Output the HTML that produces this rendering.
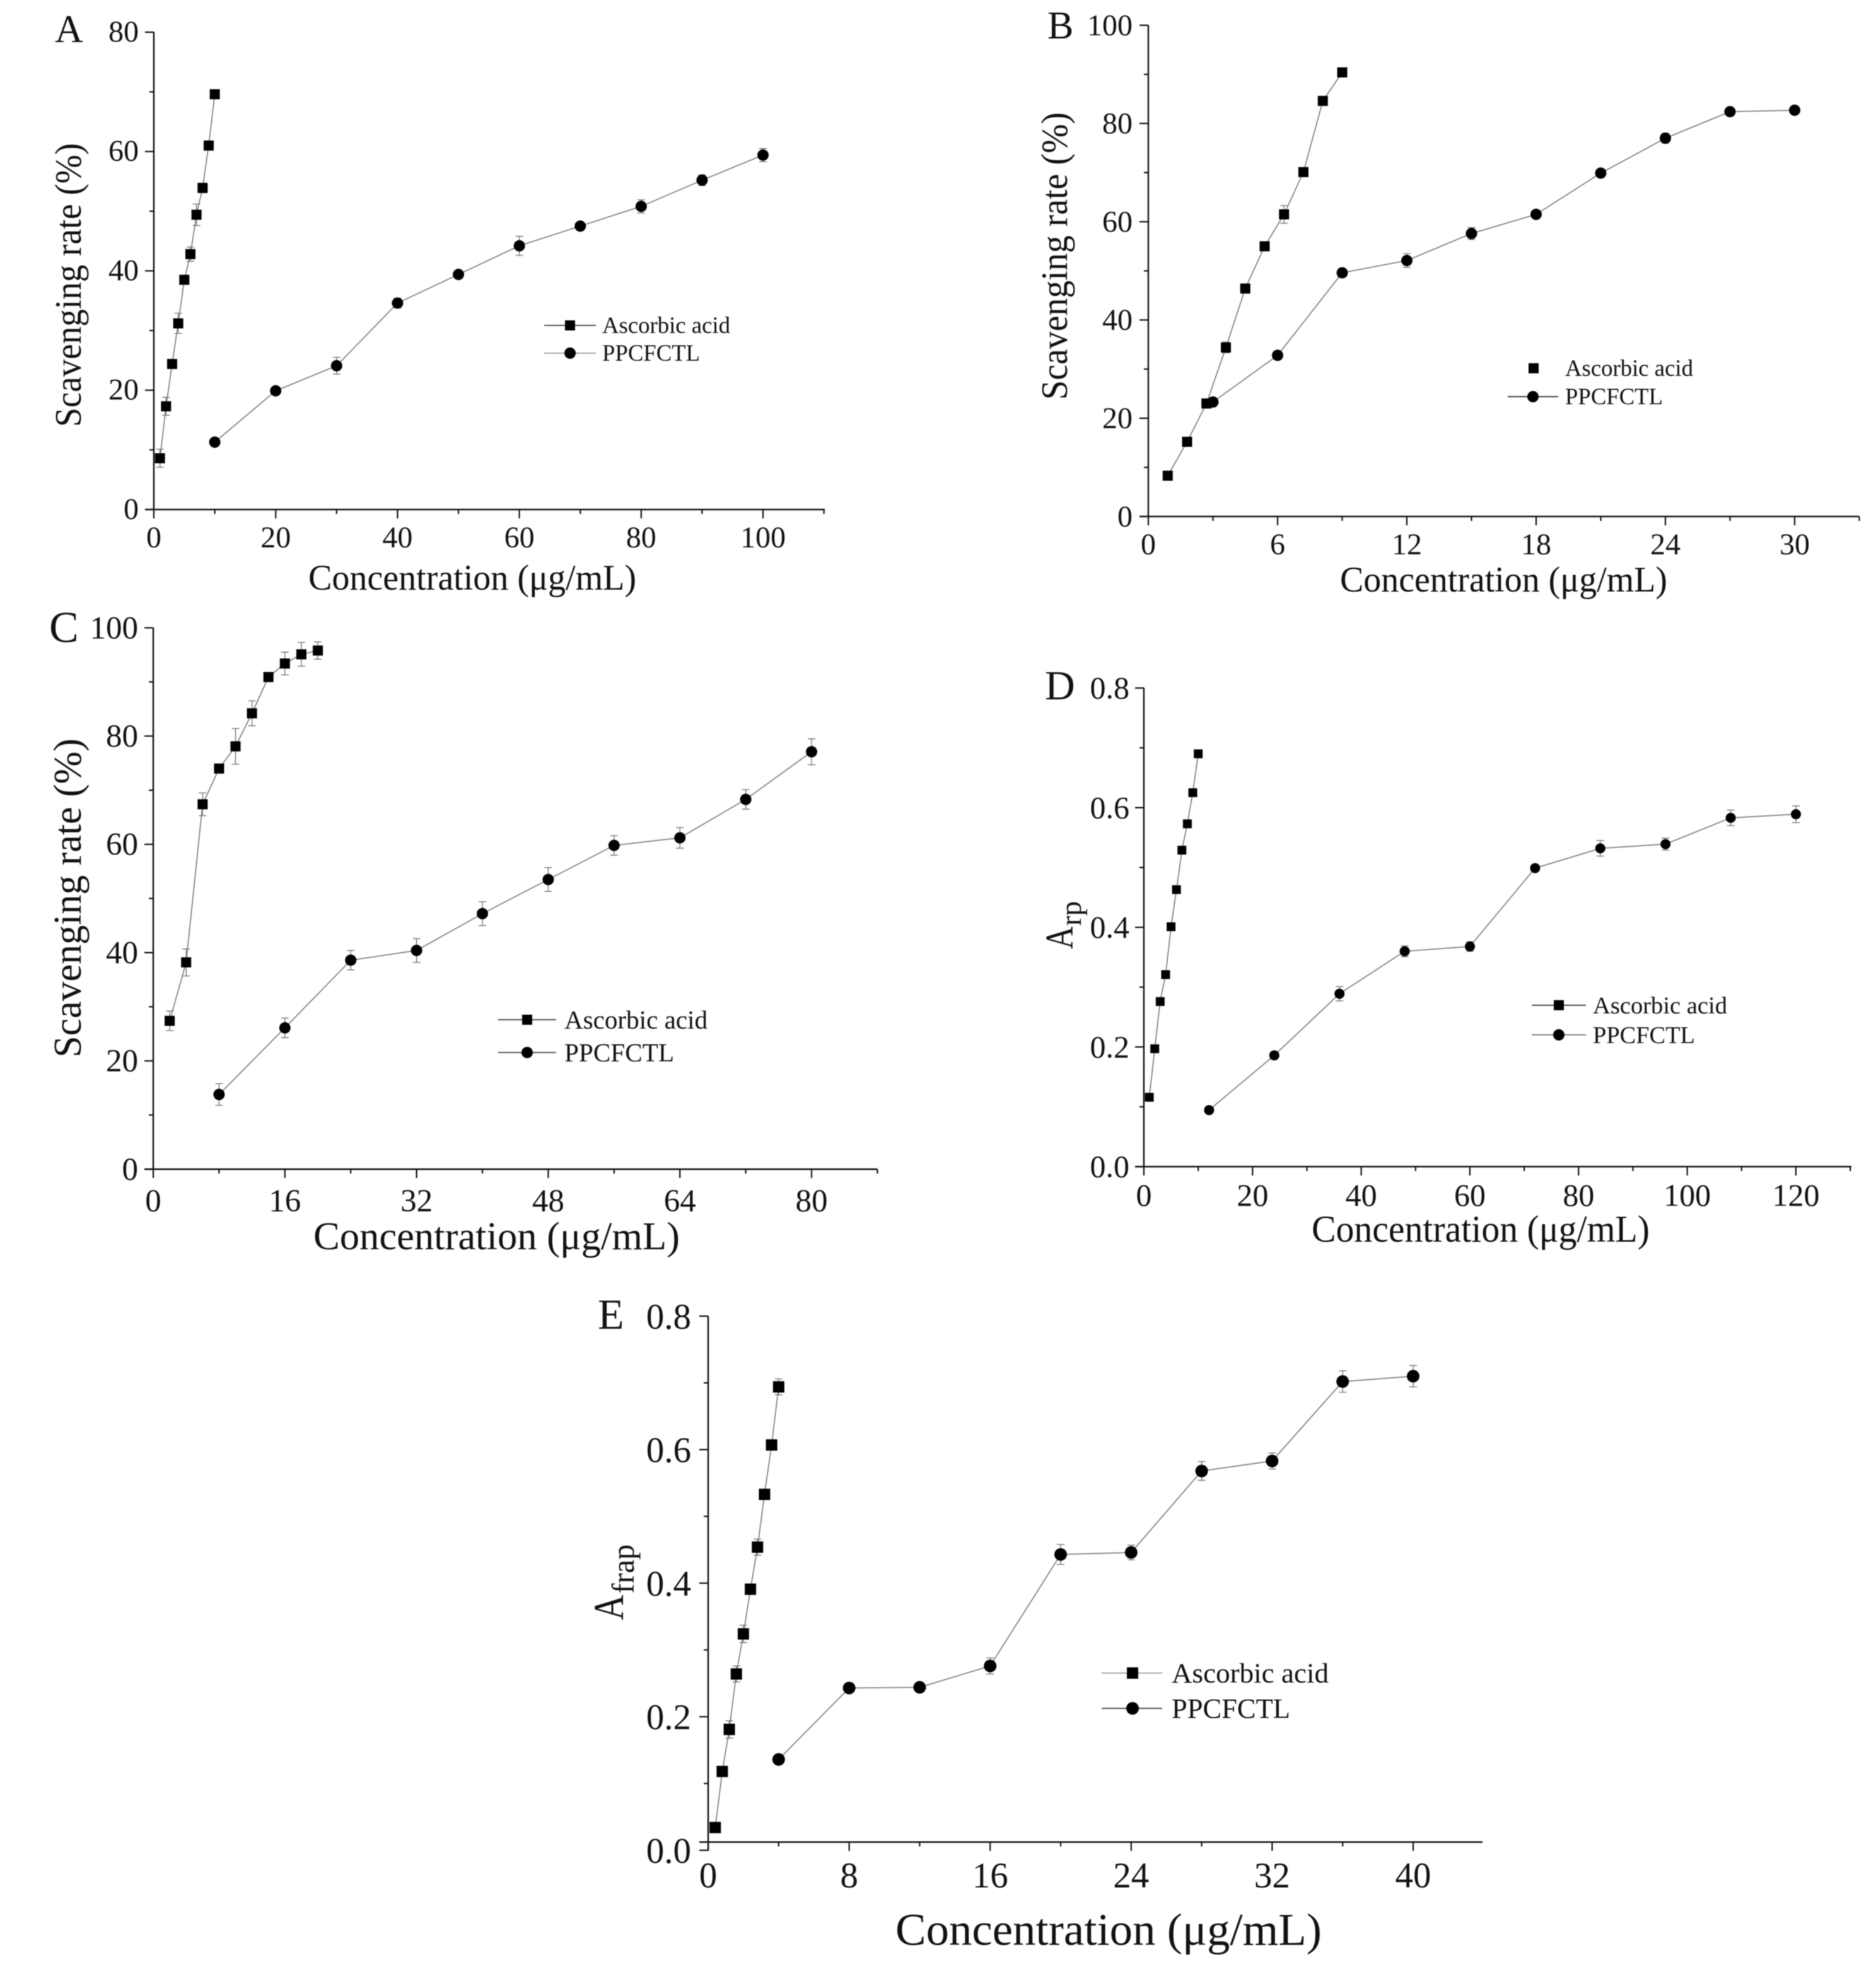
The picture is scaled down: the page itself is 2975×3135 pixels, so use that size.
<!DOCTYPE html>
<html lang="en">
<head>
<meta charset="utf-8">
<title>Antioxidant activity panels</title>
<style>
html,body{margin:0;padding:0;background:#fff;}
#figure{display:block;width:2975px;height:3135px;filter:blur(0.9px);font-family:"Liberation Serif",serif;fill:#111;}
</style>
</head>
<body>
<svg id="figure" xmlns="http://www.w3.org/2000/svg" width="2975" height="3135" viewBox="0 0 2975 3135">
  <rect x="0" y="0" width="2975" height="3135" fill="#fff"/>

  <g id="panel-a">
    <text x="87" y="67" font-size="62">A</text>
    <text x="489" y="935" font-size="57" textLength="520" lengthAdjust="spacingAndGlyphs">Concentration (μg/mL)</text>
    <text transform="translate(128,452) rotate(-90)" text-anchor="middle" font-size="59" textLength="450" lengthAdjust="spacingAndGlyphs">Scavenging rate (%)</text>
    <g>
      <line x1="863" x2="945" y1="516" y2="516" stroke="#555" stroke-width="2"/>
      <rect x="896" y="508" width="16" height="16" fill="#000"/>
      <text x="955" y="528" font-size="37" textLength="203" lengthAdjust="spacingAndGlyphs">Ascorbic acid</text>
      <line x1="863" x2="945" y1="560" y2="560" stroke="#aaa" stroke-width="2"/>
      <circle cx="904" cy="560" r="9" fill="#000"/>
      <text x="955" y="572" font-size="37" textLength="155" lengthAdjust="spacingAndGlyphs">PPCFCTL</text>
    </g>
  </g>

  <g id="panel-b">
    <text x="1661" y="61" font-size="62">B</text>
    <text x="2125" y="938" font-size="57" textLength="519" lengthAdjust="spacingAndGlyphs">Concentration (μg/mL)</text>
    <text transform="translate(1692,406) rotate(-90)" text-anchor="middle" font-size="59" textLength="456" lengthAdjust="spacingAndGlyphs">Scavenging rate (%)</text>
    <g>
      <rect x="2424" y="576" width="16" height="16" fill="#000"/>
      <text x="2482" y="596" font-size="37" textLength="203" lengthAdjust="spacingAndGlyphs">Ascorbic acid</text>
      <line x1="2391" x2="2471" y1="629" y2="629" stroke="#444" stroke-width="2"/>
      <circle cx="2431" cy="629" r="9" fill="#000"/>
      <text x="2482" y="641" font-size="37" textLength="155" lengthAdjust="spacingAndGlyphs">PPCFCTL</text>
    </g>
  </g>

  <g id="panel-c">
    <text x="78" y="1018" font-size="70">C</text>
    <text x="497" y="1981" font-size="62" textLength="581" lengthAdjust="spacingAndGlyphs">Concentration (μg/mL)</text>
    <text transform="translate(128,1424) rotate(-90)" text-anchor="middle" font-size="62" textLength="506" lengthAdjust="spacingAndGlyphs">Scavenging rate (%)</text>
    <g>
      <line x1="790" x2="882" y1="1617" y2="1617" stroke="#555" stroke-width="2"/>
      <rect x="828" y="1609" width="16" height="16" fill="#000"/>
      <text x="895" y="1631" font-size="41" textLength="227" lengthAdjust="spacingAndGlyphs">Ascorbic acid</text>
      <line x1="790" x2="882" y1="1669" y2="1669" stroke="#555" stroke-width="2"/>
      <circle cx="836" cy="1669" r="9" fill="#000"/>
      <text x="895" y="1683" font-size="41" textLength="174" lengthAdjust="spacingAndGlyphs">PPCFCTL</text>
    </g>
  </g>

  <g id="panel-d">
    <text x="1657" y="1109" font-size="66">D</text>
    <text x="2080" y="1969" font-size="60" textLength="536" lengthAdjust="spacingAndGlyphs">Concentration (μg/mL)</text>
    <g>
      <text transform="translate(1701,1505) rotate(-90)" font-size="62" textLength="36" lengthAdjust="spacingAndGlyphs">A</text>
      <text transform="translate(1714,1468) rotate(-90)" font-size="48" textLength="39" lengthAdjust="spacingAndGlyphs">rp</text>
    </g>
    <g>
      <line x1="2429" x2="2515" y1="1594" y2="1594" stroke="#555" stroke-width="2"/>
      <rect x="2464" y="1586" width="16" height="16" fill="#000"/>
      <text x="2526" y="1607" font-size="38" textLength="213" lengthAdjust="spacingAndGlyphs">Ascorbic acid</text>
      <line x1="2429" x2="2515" y1="1641" y2="1641" stroke="#888" stroke-width="2"/>
      <circle cx="2472" cy="1641" r="9" fill="#000"/>
      <text x="2526" y="1654" font-size="38" textLength="162" lengthAdjust="spacingAndGlyphs">PPCFCTL</text>
    </g>
  </g>

  <g id="panel-e">
    <text x="948" y="2107" font-size="68">E</text>
    <text x="1420" y="3084" font-size="72" textLength="676" lengthAdjust="spacingAndGlyphs">Concentration (μg/mL)</text>
    <g>
      <text transform="translate(988,2569) rotate(-90)" font-size="68" textLength="40" lengthAdjust="spacingAndGlyphs">A</text>
      <text transform="translate(1005,2527) rotate(-90)" font-size="50" textLength="78" lengthAdjust="spacingAndGlyphs">frap</text>
    </g>
    <g>
      <line x1="1747" x2="1843" y1="2653" y2="2653" stroke="#aaa" stroke-width="2"/>
      <rect x="1787" y="2644" width="18" height="18" fill="#000"/>
      <text x="1858" y="2668" font-size="44" textLength="249" lengthAdjust="spacingAndGlyphs">Ascorbic acid</text>
      <line x1="1747" x2="1843" y1="2709" y2="2709" stroke="#555" stroke-width="2"/>
      <circle cx="1796" cy="2709" r="10" fill="#000"/>
      <text x="1858" y="2724" font-size="44" textLength="188" lengthAdjust="spacingAndGlyphs">PPCFCTL</text>
    </g>
  </g>
</svg>

<script>
/* Panel A data */
const aAscConc = [1, 2, 3, 4, 5, 6, 7, 8, 9, 10];
const aAscVal = [8.6, 17.3, 24.4, 31.2, 38.5, 42.8, 49.4, 53.9, 61.0, 69.6];
const aAscErr = [1.5, 1.5, 0.5, 1.7, 0.7, 1.2, 1.8, 0.8, 0.5, 0.5];
const aPpcConc = [10, 20, 30, 40, 50, 60, 70, 80, 90, 100];
const aPpcVal = [11.3, 19.9, 24.1, 34.6, 39.4, 44.2, 47.5, 50.8, 55.2, 59.4];
const aPpcErr = [0.3, 0.4, 1.4, 0.8, 0.4, 1.6, 0.5, 1.1, 0.9, 1.1];
const aXTicks = ['0', '20', '40', '60', '80', '100'];
const aYTicks = ['0', '20', '40', '60', '80'];

/* Panel B data */
const bAscConc = [0.9, 1.8, 2.7, 3.6, 4.5, 5.4, 6.3, 7.2, 8.1, 9];
const bAscVal = [8.3, 15.2, 23.0, 34.4, 46.4, 55.0, 61.5, 70.1, 84.6, 90.4];
const bAscErr = [0.3, 0.3, 0.4, 1.1, 0.8, 0.5, 1.8, 0.4, 0.4, 0.3];
const bPpcConc = [3, 6, 9, 12, 15, 18, 21, 24, 27, 30];
const bPpcVal = [23.3, 32.8, 49.6, 52.1, 57.6, 61.5, 69.9, 77.0, 82.4, 82.7];
const bPpcErr = [0.3, 0.5, 0.4, 1.4, 1.2, 0.4, 0.3, 1.0, 0.3, 0.3];
const bXTicks = ['0', '6', '12', '18', '24', '30'];
const bYTicks = ['0', '20', '40', '60', '80', '100'];

/* Panel C data */
const cAscConc = [2, 4, 6, 8, 10, 12, 14, 16, 18, 20];
const cAscVal = [27.4, 38.2, 67.4, 74.0, 78.1, 84.2, 90.9, 93.4, 95.1, 95.8];
const cAscErr = [1.8, 2.5, 2.1, 0.5, 3.3, 2.3, 0.5, 2.1, 2.2, 1.6];
const cPpcConc = [8, 16, 24, 32, 40, 48, 56, 64, 72, 80];
const cPpcVal = [13.8, 26.1, 38.6, 40.4, 47.2, 53.5, 59.8, 61.2, 68.3, 77.1];
const cPpcErr = [2.0, 1.8, 1.8, 2.2, 2.2, 2.2, 1.8, 1.9, 1.8, 2.4];
const cXTicks = ['0', '16', '32', '48', '64', '80'];
const cYTicks = ['0', '20', '40', '60', '80', '100'];

/* Panel D data */
const dAscConc = [1, 2, 3, 4, 5, 6, 7, 8, 9, 10];
const dAscVal = [0.116, 0.197, 0.276, 0.321, 0.401, 0.463, 0.529, 0.573, 0.625, 0.690];
const dAscErr = [0.004, 0.005, 0.004, 0.004, 0.004, 0.004, 0.005, 0.004, 0.004, 0.004];
const dPpcConc = [12, 24, 36, 48, 60, 72, 84, 96, 108, 120];
const dPpcVal = [0.0945, 0.186, 0.289, 0.360, 0.368, 0.499, 0.532, 0.539, 0.583, 0.589];
const dPpcErr = [0.003, 0.006, 0.012, 0.009, 0.008, 0.005, 0.013, 0.010, 0.013, 0.014];
const dXTicks = ['0', '20', '40', '60', '80', '100', '120'];
const dYTicks = ['0.0', '0.2', '0.4', '0.6', '0.8'];

/* Panel E data */
const eAscConc = [0.4, 0.8, 1.2, 1.6, 2.0, 2.4, 2.8, 3.2, 3.6, 4.0];
const eAscVal = [0.034, 0.118, 0.181, 0.264, 0.324, 0.391, 0.454, 0.533, 0.607, 0.694];
const eAscErr = [0.005, 0.004, 0.013, 0.012, 0.013, 0.004, 0.012, 0.004, 0.004, 0.012];
const ePpcConc = [4, 8, 12, 16, 20, 24, 28, 32, 36, 40];
const ePpcVal = [0.136, 0.243, 0.244, 0.276, 0.443, 0.446, 0.568, 0.583, 0.702, 0.710];
const ePpcErr = [0.003, 0.004, 0.004, 0.012, 0.015, 0.011, 0.014, 0.012, 0.016, 0.016];
const eXTicks = ['0', '8', '16', '24', '32', '40'];
const eYTicks = ['0.0', '0.2', '0.4', '0.6', '0.8'];

const NS = 'http://www.w3.org/2000/svg';

function make(tag, attrs, parent) {
  const node = document.createElementNS(NS, tag);
  for (const k in attrs) node.setAttribute(k, attrs[k]);
  parent.appendChild(node);
  return node;
}

function drawPanel(p) {
  const root = document.getElementById(p.id);
  const xMaxTick = Number(p.xTicks[p.xTicks.length - 1]);
  const xStep = Number(p.xTicks[1]) - Number(p.xTicks[0]);
  const yStep = Number(p.yTicks[1]) - Number(p.yTicks[0]);
  const yMaxTick = Number(p.yTicks[p.yTicks.length - 1]);
  const sx = v => p.left + (v / xMaxTick) * (p.xTickEnd - p.left);
  const sy = v => p.y0 + (v / yMaxTick) * (p.yTop - p.y0);
  const axisStroke = '#111';

  const axes = make('g', {}, root);
  
  

  const xAxis = make('line', {x1: p.left - 14, x2: p.right, y1: p.axisY, y2: p.axisY, stroke: axisStroke, 'stroke-width': 2.4}, axes);
  
  

  const yAxis = make('line', {x1: p.left, x2: p.left, y1: p.yTop, y2: p.y0, stroke: axisStroke, 'stroke-width': 2.4}, axes);
  
  

  /* x ticks, majors labelled and minors at half steps */
  for (let v = 0; sx(v) <= p.right + 1; v += xStep / 2) {
    const major = Math.abs(v / xStep - Math.round(v / xStep)) < 1e-6;
    const tick = make('line', {x1: sx(v), x2: sx(v), y1: p.axisY, y2: p.axisY + (major ? 14 : 7), stroke: axisStroke, 'stroke-width': 2.2}, axes);
    
    
  }
  p.xTicks.forEach(label => {
    const t = make('text', {x: sx(Number(label)), y: p.xLabelY, 'text-anchor': 'middle', 'font-size': p.tickFont}, axes);
    
    
    t.textContent = label;
  });

  /* y ticks */
  for (let v = 0; v <= yMaxTick + 1e-9; v += yStep / 2) {
    const major = Math.abs(v / yStep - Math.round(v / yStep)) < 1e-6;
    const tick = make('line', {x1: p.left - (major ? 14 : 7), x2: p.left, y1: sy(v), y2: sy(v), stroke: axisStroke, 'stroke-width': 2.2}, axes);
    
    
  }
  p.yTicks.forEach(label => {
    const t = make('text', {x: p.yLabelRight, y: sy(Number(label)) + p.tickFont * 0.33 + p.yLabelShift, 'text-anchor': 'end', 'font-size': p.tickFont}, axes);
    
    
    t.textContent = label;
  });

  /* series */
  p.series.forEach(s => {
    const g = make('g', {}, root);
    
    

    const pts = s.conc.map((c, i) => sx(c).toFixed(1) + ',' + sy(s.val[i]).toFixed(1)).join(' ');
    const line = make('polyline', {points: pts, fill: 'none', stroke: '#777', 'stroke-width': 1.6}, g);
    
    

    s.conc.forEach((c, i) => {
      const cx = sx(c), cy = sy(s.val[i]);
      const hi = sy(s.val[i] + s.err[i]), lo = sy(s.val[i] - s.err[i]);
      const err = make('path', {d: 'M' + (cx - 6) + ' ' + hi + 'H' + (cx + 6) + 'M' + cx + ' ' + hi + 'V' + lo + 'M' + (cx - 6) + ' ' + lo + 'H' + (cx + 6), fill: 'none', stroke: '#777', 'stroke-width': 1.4}, g);
      
      

      let mark;
      if (s.shape === 'square') {
        mark = make('rect', {x: cx - p.mark, y: cy - p.mark, width: p.mark * 2, height: p.mark * 2, fill: '#000'}, g);
      } else {
        mark = make('circle', {cx: cx, cy: cy, r: p.mark + 1, fill: '#000'}, g);
      }
      
      
    });
  });
}

const panels = [
  {id: 'panel-a', key: 'panel-a', left: 244, xTickEnd: 1210, right: 1308, y0: 808, axisY: 808, yTop: 51, xLabelY: 868, yLabelRight: 220, yLabelShift: -1, tickFont: 48, mark: 8, xTicks: aXTicks, yTicks: aYTicks,
   series: [{name: 'ascorbic-acid', shape: 'square', conc: aAscConc, val: aAscVal, err: aAscErr}, {name: 'ppcfctl', shape: 'circle', conc: aPpcConc, val: aPpcVal, err: aPpcErr}]},
  {id: 'panel-b', key: 'panel-b', left: 1821, xTickEnd: 2846, right: 2948, y0: 819, axisY: 819, yTop: 40, xLabelY: 879, yLabelRight: 1796, yLabelShift: 0, tickFont: 48, mark: 8, xTicks: bXTicks, yTicks: bYTicks,
   series: [{name: 'ascorbic-acid', shape: 'square', conc: bAscConc, val: bAscVal, err: bAscErr}, {name: 'ppcfctl', shape: 'circle', conc: bPpcConc, val: bPpcVal, err: bPpcErr}]},
  {id: 'panel-c', key: 'panel-c', left: 243, xTickEnd: 1287, right: 1391, y0: 1854, axisY: 1854, yTop: 995.5, xLabelY: 1921, yLabelRight: 219, yLabelShift: 0, tickFont: 51, mark: 8, xTicks: cXTicks, yTicks: cYTicks,
   series: [{name: 'ascorbic-acid', shape: 'square', conc: cAscConc, val: cAscVal, err: cAscErr}, {name: 'ppcfctl', shape: 'circle', conc: cPpcConc, val: cPpcVal, err: cPpcErr}]},
  {id: 'panel-d', key: 'panel-d', left: 1814, xTickEnd: 2848, right: 2936, y0: 1850, axisY: 1850, yTop: 1091, xLabelY: 1912, yLabelRight: 1791, yLabelShift: 0, tickFont: 50, mark: 7, xTicks: dXTicks, yTicks: dYTicks,
   series: [{name: 'ascorbic-acid', shape: 'square', conc: dAscConc, val: dAscVal, err: dAscErr}, {name: 'ppcfctl', shape: 'circle', conc: dPpcConc, val: dPpcVal, err: dPpcErr}]},
  {id: 'panel-e', key: 'panel-e', left: 1123, xTickEnd: 2241, right: 2351, y0: 2934, axisY: 2921, yTop: 2087, xLabelY: 2993, yLabelRight: 1096, yLabelShift: 1, tickFont: 57, mark: 9, xTicks: eXTicks, yTicks: eYTicks,
   series: [{name: 'ascorbic-acid', shape: 'square', conc: eAscConc, val: eAscVal, err: eAscErr}, {name: 'ppcfctl', shape: 'circle', conc: ePpcConc, val: ePpcVal, err: ePpcErr}]}
];

panels.forEach(drawPanel);
</script>
</body>
</html>
